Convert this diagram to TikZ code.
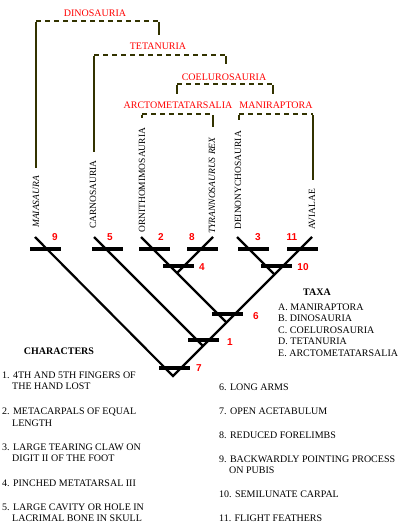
\documentclass[tikz,border=0pt]{standalone}
\usepackage{fontspec}
\setmainfont{Liberation Serif}
\newfontfamily\numfont{Liberation Sans}
\definecolor{brk}{RGB}{51,51,0}
\begin{document}
\begin{tikzpicture}[x=1pt,y=-1pt,
  grp/.style={text=red,font=\fontsize{10}{12}\selectfont,inner sep=0},
  taxon/.style={rotate=90,anchor=west,inner sep=0,font=\fontsize{9.5}{11}\selectfont},
  num/.style={text=red,font=\numfont\bfseries\fontsize{10}{12}\selectfont,inner sep=0},
  txt/.style={anchor=west,inner sep=0,font=\fontsize{10}{12}\selectfont},
  hd/.style={inner sep=0,font=\bfseries\fontsize{10}{12}\selectfont},
  dashline/.style={brk,line width=2.8pt,dash pattern=on 5pt off 4pt},
  solidline/.style={brk,line width=2.8pt},
  branch/.style={line width=2.2pt,black},
  barmark/.style={fill=black,draw=none,inner sep=0,minimum width=31pt,minimum height=4pt}]

\fill[white] (0,0) rectangle (410,526);
\useasboundingbox (0,0) rectangle (410,526);

% group labels
\node[grp] (gDin) at (95,13) {DINOSAURIA};
\node[grp] (gTet) at (158,46) {TETANURIA};
\node[grp] (gCoe) at (224,77) {COELUROSAURIA};
\node[grp] (gArc) at (178,105) {ARCTOMETATARSALIA};
\node[grp] (gMan) at (276,105) {MANIRAPTORA};

% brackets
\coordinate (dinL) at (36,168); \coordinate (dinLt) at (36,21);
\coordinate (dinRt) at (159,21); \coordinate (dinR) at (159,35);
\coordinate (tetL) at (94,152); \coordinate (tetLt) at (94,55);
\coordinate (tetRt) at (226,55); \coordinate (tetR) at (226,64);
\coordinate (coeL) at (177,94); \coordinate (coeLt) at (177,84);
\coordinate (coeRt) at (273,84); \coordinate (coeR) at (273,94);
\coordinate (arcL) at (142,118); \coordinate (arcLt) at (142,114);
\coordinate (arcRt) at (213,114); \coordinate (arcR) at (213,127);
\coordinate (manL) at (239,120); \coordinate (manLt) at (239,114);
\coordinate (manRt) at (313,114); \coordinate (manR) at (313,180);

\foreach \b in {din,tet,coe,arc,man}{
  \draw[solidline] (\b L) -- ([yshift=-1.4pt]\b Lt);
  \draw[dashline] (\b Lt) -- (\b Rt);
  \draw[solidline] ([yshift=-1.4pt]\b Rt) -- (\b R);
}

% taxa
\node[taxon] (xMai) at (36,228) {\itshape MAIASAURA};
\node[taxon] (xCar) at (93,229) {CARNOSAURIA};
\node[taxon] (xOrn) at (142,233) {ORNITHOMIMOSAURIA};
\node[taxon] (xTyr) at (212,234) {\itshape TYRANNOSAURUS REX};
\node[taxon] (xDei) at (238,230) {DEINONYCHOSAURIA};
\node[taxon] (xAvi) at (312,230) {AVIALAE};

% tree
\coordinate (tMai) at (35,237);
\coordinate (tCar) at (94,237);
\coordinate (tOrn) at (141,237);
\coordinate (tTyr) at (213,237);
\coordinate (tDei) at (237,237);
\coordinate (tAvi) at (312,237);
\coordinate (root) at (173,376);
\coordinate (nTet) at (203,346);
\coordinate (nCoe) at (226.5,322.5);
\coordinate (nArc) at (177,273);
\coordinate (nMan) at (274.5,274.5);

\draw[branch] (tMai) -- (root) -- (tAvi);
\draw[branch] (tCar) -- (nTet);
\draw[branch] (tOrn) -- (nCoe);
\draw[branch] (tTyr) -- (nArc);
\draw[branch] (tDei) -- (nMan);

% character bars
\node[barmark] (bMai) at (45.5,249) {};
\node[barmark] (bCar) at (107.5,249) {};
\node[barmark] (bOrn) at (154.5,249) {};
\node[barmark] (bTyr) at (202.5,249) {};
\node[barmark] (bDei) at (253.5,249) {};
\node[barmark] (bAvi) at (302.5,249) {};
\node[barmark] (bArc) at (178.5,266) {};
\node[barmark] (bMan) at (276.5,266) {};
\node[barmark] (bCoe) at (227.5,314) {};
\node[barmark] (bTet) at (203.5,340) {};
\node[barmark] (bDin) at (174.5,368) {};

% numbers
\node[num] (n9) at (55,237) {9};
\node[num] (n5) at (110,237) {5};
\node[num] (n2) at (161,237) {2};
\node[num] (n8) at (192,237) {8};
\node[num] (n3) at (258,237) {3};
\node[num] (n11) at (292,237) {11};
\node[num] (n4) at (202,267) {4};
\node[num] (n10) at (303,267) {10};
\node[num] (n6) at (256,316) {6};
\node[num] (n1) at (230,342) {1};
\node[num] (n7) at (199,368) {7};

% taxa key
\node[hd] (taxa) at (317,292) {TAXA};
\node[txt] (ta) at (278,307) {A. MANIRAPTORA};
\node[txt] (tb) at (278,318.5) {B. DINOSAURIA};
\node[txt] (tc) at (278,330) {C. COELUROSAURIA};
\node[txt] (td) at (278,341.5) {D. TETANURIA};
\node[txt] (te) at (278,353.5) {E. ARCTOMETATARSALIA};

% characters key
\node[hd] (chars) at (59,351) {CHARACTERS};
\node[txt] (c1) at (2,375) {1. 4TH AND 5TH FINGERS OF};
\node[txt] (c1b) at (12,386) {THE HAND LOST};
\node[txt] (c2) at (2,412) {2. METACARPALS OF EQUAL};
\node[txt] (c2b) at (12,423) {LENGTH};
\node[txt] (c3) at (2,447) {3. LARGE TEARING CLAW ON};
\node[txt] (c3b) at (12,458) {DIGIT II OF THE FOOT};
\node[txt] (c4) at (2,483) {4. PINCHED METATARSAL III};
\node[txt] (c5) at (2,507) {5. LARGE CAVITY OR HOLE IN};
\node[txt] (c5b) at (12,518) {LACRIMAL BONE IN SKULL};

\node[txt] (c6) at (219,387) {6. LONG ARMS};
\node[txt] (c7) at (219,411) {7. OPEN ACETABULUM};
\node[txt] (c8) at (219,435) {8. REDUCED FORELIMBS};
\node[txt] (c9) at (219,459) {9. BACKWARDLY POINTING PROCESS};
\node[txt] (c9b) at (229,470) {ON PUBIS};
\node[txt] (c10) at (219,494) {10. SEMILUNATE CARPAL};
\node[txt] (c11) at (219,518) {11. FLIGHT FEATHERS};
\end{tikzpicture}
\end{document}
